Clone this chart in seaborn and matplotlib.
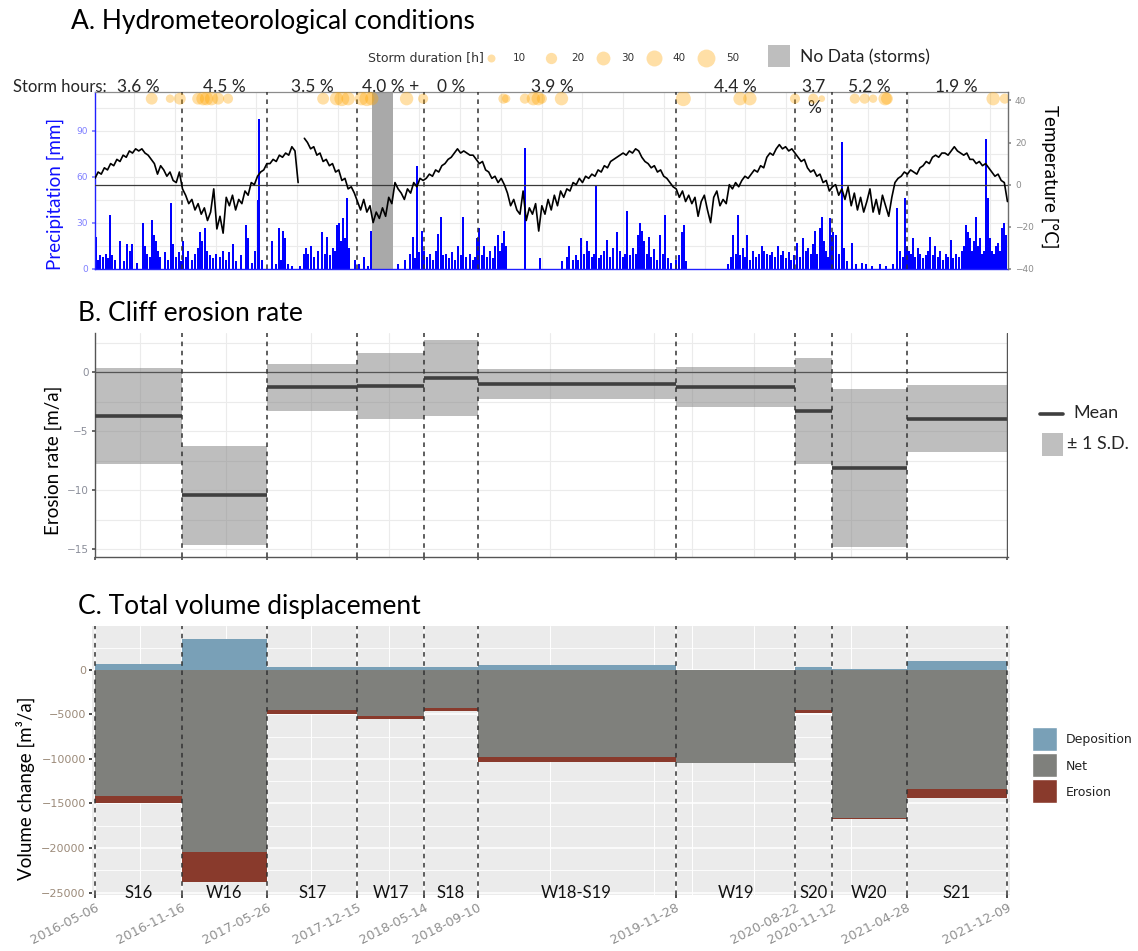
import numpy as np
import pandas as pd
import matplotlib
matplotlib.use("Agg")
import matplotlib.pyplot as plt
import matplotlib.dates as mdates
import matplotlib.transforms as mtrans
from matplotlib.patches import Rectangle
import seaborn as sns

# ------------------------------------------------------------------ data
start_date = "2016-05-06"

period_bounds = ["2016-05-06", "2016-11-16", "2017-05-26", "2017-12-15",
                 "2018-05-14", "2018-09-10", "2019-11-28", "2020-08-22",
                 "2020-11-12", "2021-04-28", "2021-12-09"]
period_names = ["S16", "W16", "S17", "W17", "S18", "W18-S19", "W19",
                "S20", "W20", "S21"]
storm_share = ["3.6 %", "4.5 %", "3.5 %", "4.0 % +", "0 %", "3.9 %",
               "4.4 %", "3.7", "5.2 %", "1.9 %"]
nodata_span = ["2018-01-16", "2018-03-04"]

# weekly air temperature [degC], starting at start_date (NaN = sensor gap)
temp_c = [
    3, 6, 5, 8, 7, 10, 9, 12, 11, 14, 13, 16, 15, 17, 16, 17, 15, 14, 12, 10,
    5, 9, 7, 4, 6, 2, 1, 6,
    -2, -5, -9, -7, -12, -9, -14, -11, -17, -13, -2, -21, -15, -23, -6, -10,
    -5, -12, -7, -9, -3, -5, 1, 0, 4, 6, 7, 10,
    10, 12, 11, 14, 13, 15, 14, 18, 16, 1, np.nan, 22, 20, 17, 18, 14, 15, 11,
    12, 9, 10, 6, 7, 2, 3, -2, -1,
    -4, -8, -12, -7, -13, -10, -18, -13, -16, -11, -15, -6, -9, 1, -2, -4,
    -7, -2, -4, 1, -1, 3, 2,
    3, 5, 4, 7, 6, 9, 10, 12, 13, 15, 17, 15, 16, 15, 14, 14, 12,
    10, 11, 7, 6, 3, 4, 1, 3, 0, -4, -10, -7, -12, -14, -3, -17, -11, -14,
    -9, -22, -10, -14, -7, -12, -5, -10, -3, -6, -2, -3, 1, 0, 3, 1, 4, 3, 5,
    4, 7, 6, 9, 8, 11, 12, 13, 14, 15, 14, 16, 15, 17, 16, 13, 11, 10, 8, 9,
    6, 7, 4, 3, 1, -1,
    -2, -6, -3, -8, -5, -9, -6, -15, -8, -5, -12, -18, -6, -3, -10, -7, -9,
    0, -2, 1, -1, 2, 4, 3, 5, 7, 6, 9, 8, 13, 15, 14, 17, 19, 17, 18, 16, 17,
    15,
    13, 11, 12, 8, 6, 7, 4, 5, 1, 2, -3, -1,
    0, -5, -2, -7, -1, -10, -4, -12, -6, -13, -8, -2, -13, -7, -14, -5, -10,
    -15, -6, 1, 3, 4, 6,
    5, 7, 6, 5, 8, 9, 11, 10, 13, 14, 13, 15, 15, 14, 16, 18, 16, 15, 14, 15,
    12, 12, 10, 11, 9, 10, 8, 6, 4, 5, 2, 1, -8,
]

# daily precipitation events: day since start_date, amount [mm]
precip_day = [
    2, 7, 11, 18, 25, 29, 34, 38, 45, 56, 65, 72, 78, 83, 94, 108, 112, 116,
    123, 128, 132, 137, 141, 146, 157, 164, 170, 175, 181, 188, 193,
    197, 204, 208, 217, 224, 231, 235, 240, 246, 251, 258, 264, 271, 280, 287,
    293, 300, 309, 316, 327, 338, 343, 352, 358, 365, 367, 374,
    396, 405, 412, 417, 421, 426, 432, 441, 459, 468, 473, 477, 484, 491, 500,
    509, 515, 520, 526, 533, 538, 542, 547, 551, 556, 560, 565, 569,
    582, 591, 603, 612, 618, 679, 694, 706, 712, 717, 721, 726, 732, 737,
    744, 750, 757, 764, 768, 775, 780, 786, 793, 800, 806, 813, 820, 824, 831,
    840, 847, 851,
    856, 860, 867, 871, 878, 885, 892, 896, 903, 907, 912, 916, 921, 963, 997,
    1046, 1057, 1062, 1071, 1077, 1082, 1089, 1095, 1102, 1107, 1113, 1118,
    1122, 1129, 1133, 1140, 1147, 1153, 1160, 1169, 1176, 1183, 1187, 1192,
    1198, 1205, 1212, 1216, 1221, 1225, 1230, 1236, 1241, 1245, 1252, 1259,
    1266, 1272, 1277, 1284, 1290,
    1301, 1308, 1315, 1319, 1324, 1418, 1425, 1429, 1436, 1440, 1445, 1452,
    1456, 1461, 1467, 1474, 1481, 1487, 1494, 1499, 1505, 1512, 1517, 1523,
    1530, 1537, 1541, 1548, 1555, 1559, 1566,
    1573, 1579, 1586, 1593, 1597, 1604, 1609, 1613, 1618, 1624, 1629, 1633,
    1638, 1642, 1647, 1651,
    1654, 1660, 1667, 1673, 1678, 1685, 1696, 1705, 1718, 1727, 1741, 1758,
    1772, 1788, 1797, 1803, 1810, 1815,
    1819, 1823, 1828, 1832, 1837, 1844, 1848, 1855, 1862, 1866, 1870, 1877,
    1882, 1888, 1893, 1900, 1906, 1911, 1918, 1922, 1929, 1935, 1942, 1947,
    1951, 1956, 1960, 1965, 1969, 1974, 1978, 1983, 1987, 1992, 1996, 2000,
    2005, 2009, 2014, 2018, 2023, 2027, 2032, 2036, 2041,
]
precip_mm = [
    21, 6, 9, 8, 10, 7, 35, 9, 6, 18, 5, 16, 12, 16, 4, 30, 15, 10, 8, 32, 22,
    18, 12, 8, 11, 6, 43, 16, 8, 11, 5,
    18, 8, 12, 6, 10, 14, 24, 18, 27, 12, 9, 7, 10, 8, 12, 6, 11, 16, 5, 9,
    29, 20, 4, 12, 45, 98, 6,
    18, 3, 27, 6, 25, 20, 3, 2, 2, 10, 14, 10, 15, 8, 12, 24, 10, 21, 9, 14,
    12, 29, 30, 18, 33, 20, 46, 14,
    6, 3, 8, 2, 25, 3, 6, 10, 21, 7, 67, 11, 25, 12,
    8, 10, 6, 12, 23, 34, 9, 10, 7, 11, 6, 15, 9, 34, 8, 10, 6, 8,
    20, 27, 9, 15, 8, 12, 7, 15, 22, 12, 17, 25, 15, 79, 7, 5, 8, 15, 6, 9,
    6, 20, 10, 18, 12, 8, 10, 54, 7, 9, 12, 19, 8, 14, 24, 12, 8, 10, 38, 9,
    14, 10, 22, 30, 25, 18, 10, 21, 8, 13, 6, 22, 10, 35, 7, 4,
    6, 9, 24, 29, 5, 3, 8, 22, 10, 35, 9, 14, 8, 22, 6, 12, 8, 10, 15, 12,
    10, 9, 11, 8, 15, 9, 12, 7, 11, 6, 9,
    17, 8, 20, 12, 14, 10, 16, 25, 10, 27, 34, 18, 12, 8, 33, 22,
    24, 22, 10, 83, 14, 5, 17, 3, 4, 3, 2, 3, 2, 3, 40, 12, 8, 46,
    15, 12, 10, 20, 8, 14, 10, 7, 9, 12, 21, 9, 15, 8, 12, 6, 10, 8, 19, 7,
    10, 8, 12, 15, 29, 24, 20, 12, 18, 34, 15, 20, 10, 12, 85, 46, 20, 12,
    10, 15, 17, 12, 27, 30, 22,
]

# storm events: day since start_date, duration [h]
storm_day = [127, 168, 190, 231, 242, 250, 261, 276, 298, 511, 541, 553, 567,
             597, 609, 620, 698, 735, 915, 921, 963, 982, 993, 1001, 1045,
             1318, 1445, 1467, 1568, 1609, 1628, 1702, 1724, 1743, 1770, 1774,
             2012, 2038]
storm_hours = [22, 11, 22, 22, 28, 28, 28, 22, 16, 22, 28, 35, 28, 28, 35, 28,
               28, 16, 16, 11, 16, 28, 28, 16, 28, 35, 28, 28, 16, 16, 7, 16,
               16, 11, 28, 22, 28, 16]

# cliff erosion rate per period [m/a]
erosion_mean = [-3.70, -10.43, -1.28, -1.15, -0.48, -1.02, -1.23, -3.30,
                -8.15, -3.92]
erosion_sd = [4.06, 4.21, 1.97, 2.82, 3.20, 1.28, 1.72, 4.50, 6.72, 2.85]

# volume displacement per period [m3/a]
vol_deposition = [700, 3450, 370, 370, 300, 560, 0, 300, 100, 1050]
vol_erosion = [-14900, -23850, -4900, -5500, -4570, -10300, -10400, -4800,
               -16700, -14400]

# ------------------------------------------------------------------ style
W, H = 1138, 951
sns.set_theme(style="white")
plt.rcParams["font.family"] = ["Lato", "DejaVu Sans"]

C_DEP, C_NET, C_ERO = "#79A0B7", "#7F807C", "#893A2C"
C_STORM = "#FFA500"
DASH = dict(color="#333333", lw=1.1, ls=(0, (3, 3)))
TICKFONT = "DejaVu Sans"
TITLE_SIZE = 19

fig = plt.figure(figsize=(W / 100, H / 100), dpi=100)


def rect(x0, x1, y0, y1):
    return [x0 / W, 1 - y1 / H, (x1 - x0) / W, (y1 - y0) / H]


t0 = pd.Timestamp(start_date)
bounds = pd.to_datetime(period_bounds)
bnum = mdates.date2num(bounds)
left = bnum[:-1]
widths = np.diff(bnum)
mids = left + widths / 2
px_per_day = (1007 - 95) / (bnum[-1] - bnum[0])


def xlim_for(x0_px, x1_px):
    return (bnum[0] - (95 - x0_px) / px_per_day,
            bnum[-1] + (x1_px - 1007) / px_per_day)


grid_days = [101, 293, 484, 659, 1019, 1252, 1337, 1476, 1694]
grid_x = mdates.date2num(t0 + pd.to_timedelta(grid_days, unit="D"))


def tickfont(labels):
    for lab in labels:
        lab.set_fontfamily(TICKFONT)


# ------------------------------------------------------------------ panel A
axA = fig.add_axes(rect(95, 1008, 91.5, 269))
axA.set_facecolor("white")
for g in mdates.date2num(pd.date_range("2016-08-01", "2021-11-01", freq="3MS")):
    axA.axvline(g, color="#EBEBEB", lw=0.8, zorder=0)
for p in np.arange(15, 115, 15):
    axA.axhline(p, color="#EBEBEB", lw=0.8, zorder=0)
axA.axvspan(mdates.date2num(pd.Timestamp(nodata_span[0])),
            mdates.date2num(pd.Timestamp(nodata_span[1])),
            color="#A9A9A9", lw=0, zorder=1)
pdates = mdates.date2num(t0 + pd.to_timedelta(precip_day, unit="D"))
axA.vlines(pdates, 0, precip_mm, color="#0000FF", lw=1.4, zorder=2,
           antialiased=False)
for b in bnum[1:-1]:
    axA.axvline(b, zorder=3, **DASH)
axA.set_ylim(0, 115.7)
axA.set_yticks([0, 30, 60, 90])
axA.tick_params(axis="y", colors="#7F7FFF", labelsize=6.5, length=2, pad=3)
axA.tick_params(axis="x", bottom=False, labelbottom=False)
tickfont(axA.get_yticklabels())
for s in ["left", "bottom"]:
    axA.spines[s].set_color("#2020FF")
    axA.spines[s].set_linewidth(1.0)
axA.spines["top"].set_color("#8C8C8C")
axA.spines["top"].set_linewidth(0.9)
axA.spines["right"].set_visible(False)

axT = axA.twinx()
temp_df = pd.DataFrame({"date": pd.date_range(t0, periods=len(temp_c), freq="7D"),
                        "temp": temp_c})
temp_df["piece"] = temp_df["temp"].isna().cumsum()
temp_df = temp_df.dropna()
axT.axhline(0, color="#3A3A3A", lw=0.9, zorder=3)
sns.lineplot(data=temp_df, x="date", y="temp", units="piece", estimator=None,
             color="black", lw=1.2, ax=axT, zorder=4)
storm_df = pd.DataFrame({"date": t0 + pd.to_timedelta(storm_day, unit="D"),
                         "hours": storm_hours})
storm_df["row"] = 40.8
sns.scatterplot(data=storm_df, x="date", y="row", size="hours",
                sizes=(3.318 * 5, 3.318 * 50), size_norm=(5, 50),
                color=C_STORM, alpha=0.35, linewidth=0, legend=False,
                ax=axT, zorder=5)
axT.set_ylim(-40, 44.2)
axT.set_yticks([-40, -20, 0, 20, 40])
axT.set_xlabel("")
axT.set_ylabel("")
axT.tick_params(axis="y", colors="#8C8C8C", labelsize=6.5, length=2, pad=3)
tickfont(axT.get_yticklabels())
for s in ["left", "bottom", "top"]:
    axT.spines[s].set_visible(False)
axT.spines["right"].set_color("#6E6E6E")
axT.spines["right"].set_linewidth(1.0)
axA.set_xlim(*xlim_for(95, 1008))

# ------------------------------------------------------------------ panel B
axB = fig.add_axes(rect(95, 1008, 333, 557))
axB.set_facecolor("white")
for v in [2.5, 0, -2.5, -5, -7.5, -10, -12.5, -15]:
    axB.axhline(v, color="#EBEBEB", lw=0.8, zorder=0)
for g in grid_x:
    axB.axvline(g, color="#EBEBEB", lw=0.8, zorder=0)
mean = np.array(erosion_mean)
sd = np.array(erosion_sd)
axB.bar(left, 2 * sd, bottom=mean - sd, width=widths, align="edge",
        color="#7F7F7F", alpha=0.5, lw=0, zorder=2)
axB.axhline(0, color="#555555", lw=0.9, zorder=2.5)
axB.hlines(mean, left, left + widths, color="#3F3F3F", lw=2.6, zorder=3)
for b in bnum[1:-1]:
    axB.axvline(b, zorder=4, **DASH)
axB.axvline(bnum[-1], color="#555555", lw=1.0, zorder=4)
axB.set_xlim(*xlim_for(95, 1008))
axB.set_ylim(-15.68, 3.34)
axB.set_yticks([0, -5, -10, -15])
axB.set_xticks(bnum)
axB.tick_params(axis="y", colors="#8A8D99", labelsize=7.5, length=2.5,
                pad=2, left=True)
axB.tick_params(axis="x", labelbottom=False, length=2.5, color="#555555",
                bottom=True)
axB.tick_params(axis="y", color="#555555")
tickfont(axB.get_yticklabels())
for s in ["top", "right"]:
    axB.spines[s].set_visible(False)
for s in ["left", "bottom"]:
    axB.spines[s].set_color("#555555")
    axB.spines[s].set_linewidth(1.0)

# ------------------------------------------------------------------ panel C
axC = fig.add_axes(rect(92, 1010, 626, 895))
axC.set_facecolor("#EBEBEB")
for v in np.arange(2500, -25000, -5000):
    axC.axhline(v, color="white", lw=0.6, zorder=0)
for v in np.arange(0, -25001, -5000):
    axC.axhline(v, color="white", lw=1.1, zorder=0)
for g in grid_x:
    axC.axvline(g, color="white", lw=0.7, zorder=0)
for b in bnum:
    axC.axvline(b, color="white", lw=1.1, zorder=0)
dep = np.array(vol_deposition, dtype=float)
ero = np.array(vol_erosion, dtype=float)
net = dep + ero
axC.bar(left, dep, width=widths, align="edge", color=C_DEP, lw=0, zorder=2)
axC.bar(left, ero, width=widths, align="edge", color=C_ERO, lw=0, zorder=2)
axC.bar(left, net, width=widths, align="edge", color=C_NET, lw=0, zorder=3)
for b in bnum:
    axC.axvline(b, zorder=4, **DASH)
for m, name in zip(mids, period_names):
    axC.text(m, -25000, name, ha="center", va="center", fontsize=12,
             color="#111111", zorder=5)
axC.set_xlim(*xlim_for(92, 1010))
axC.set_ylim(-25280, 4940)
axC.set_yticks(np.arange(0, -25001, -5000))
axC.set_xticks(bnum)
axC.set_xticklabels(period_bounds, rotation=27, ha="right",
                    rotation_mode="anchor")
axC.tick_params(axis="y", colors="#9C8B7A", labelsize=8, length=2.5, pad=2,
                left=True)
axC.tick_params(axis="y", color="#333333")
axC.tick_params(axis="x", colors="#8F8F8F", labelsize=9.3, length=2.5, pad=2,
                bottom=True)
axC.tick_params(axis="x", color="#333333")
tickfont(axC.get_yticklabels())
tickfont(axC.get_xticklabels())
for s in axC.spines.values():
    s.set_visible(False)

# ------------------------------------------------------------------ annotations
ov = fig.add_axes([0, 0, 1, 1], zorder=10)
ov.set_xlim(0, W)
ov.set_ylim(H, 0)
ov.axis("off")
ov.patch.set_alpha(0)

ov.text(71, 29, "A. Hydrometeorological conditions", fontsize=TITLE_SIZE,
        va="baseline", ha="left", color="black")
ov.text(78, 321, "B. Cliff erosion rate", fontsize=TITLE_SIZE,
        va="baseline", ha="left", color="black")
ov.text(78, 614, "C. Total volume displacement", fontsize=TITLE_SIZE,
        va="baseline", ha="left", color="black")

ov.text(55, 194, "Precipitation [mm]", rotation=90, ha="center", va="center",
        fontsize=13.5, color="#1010FF")
ov.text(1050, 177, "Temperature [°C]", rotation=270, ha="center",
        va="center", fontsize=13.5, color="black")
ov.text(53, 460, "Erosion rate [m/a]", rotation=90, ha="center", va="center",
        fontsize=13.5, color="black")
ov.text(25, 788, "Volume change [m³/a]", rotation=90, ha="center",
        va="center", fontsize=13.5, color="black")

# storm-hour shares above panel A
share_tf = mtrans.blended_transform_factory(axA.transData, ov.transData)
share_shift = [0, 0, 0, 0, 0, -54, 0, 0, 0, 0]
ov.text(13, 92, "Storm hours:", fontsize=12, ha="left", va="baseline")
for m, lab, sh in zip(mids, storm_share, share_shift):
    axA.text(m + sh, 92, lab, transform=share_tf, fontsize=12.5, ha="center",
             va="baseline", clip_on=False)
axA.text(mids[7], 113, "%", transform=share_tf, fontsize=12.5, ha="center",
         va="baseline", clip_on=False)

# storm duration legend
ov.text(484, 58, "Storm duration [h]", fontsize=9, ha="right", va="center",
        family=TICKFONT, color="#333333")
for hval, cx, tx in zip([10, 20, 30, 40, 50], [491, 551, 603, 654, 706],
                        [513, 571, 621, 672, 726]):
    ov.scatter([cx], [58], s=3.318 * hval, color=C_STORM, alpha=0.35, lw=0)
    ov.text(tx, 58, str(hval), fontsize=7.5, ha="left", va="center",
            family=TICKFONT, color="#333333")
ov.add_patch(Rectangle((768, 45), 22, 22, color="#BEBEBE", lw=0))
ov.text(800, 57, "No Data (storms)", fontsize=12.5, ha="left", va="center",
        color="#222222")

# erosion-rate legend
ov.plot([1040, 1063], [414, 414], color="#3F3F3F", lw=2.6)
ov.text(1073, 413, "Mean", fontsize=13, ha="left", va="center")
ov.add_patch(Rectangle((1042, 433), 21, 23, color="#BFBFBF", lw=0))
ov.text(1067, 444, "± 1 S.D.", fontsize=13, ha="left", va="center")

# volume legend
for y0, col, lab in [(727, C_DEP, "Deposition"), (753, C_NET, "Net"),
                     (779, C_ERO, "Erosion")]:
    ov.add_patch(Rectangle((1032, y0), 25, 24, facecolor=col,
                           edgecolor="white", lw=1))
    ov.text(1066, y0 + 13, lab, fontsize=9, ha="left", va="center",
            family=TICKFONT, color="#222222")

fig.savefig("out.png", dpi=100)
